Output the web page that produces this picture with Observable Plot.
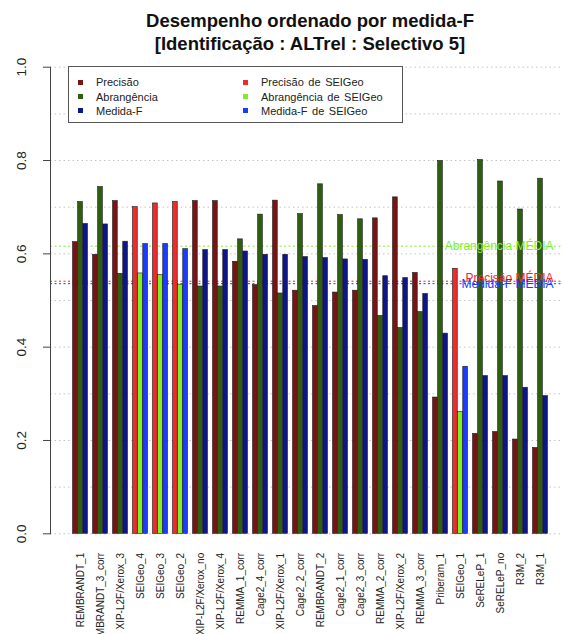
<!DOCTYPE html>
<html><head><meta charset="utf-8">
<script src="https://cdn.jsdelivr.net/npm/d3@7"></script>
<script src="https://cdn.jsdelivr.net/npm/@observablehq/plot@0.6"></script>
<style>
html,body{margin:0;padding:0;background:#fff;overflow:hidden;}
#wrap{position:relative;width:563px;height:634px;font-family:"Liberation Sans",Arial,Helvetica,sans-serif;}
#chart{position:absolute;left:0;top:0;}
#title{position:absolute;left:0;top:9px;width:563px;box-sizing:border-box;padding-left:57px;text-align:center;font-weight:bold;font-size:18.5px;line-height:23px;color:#111;z-index:2;}
#legend{position:absolute;left:68px;top:66px;width:335px;height:57px;box-sizing:border-box;border:1px solid #555;background:#fff;padding:8.4px 0 0 8.5px;display:grid;grid-template-columns:165px 165px;grid-auto-flow:column;grid-template-rows:repeat(3,14.2px);font-size:11px;color:#222;word-spacing:1.5px;z-index:2;}
.item{display:flex;align-items:center;line-height:14.2px;white-space:nowrap;}
.sw{width:5px;height:5px;margin-right:13.5px;flex:none;}
</style></head>
<body>
<div id="wrap">
  <div id="title">Desempenho ordenado por medida-F<br>[Identificação : ALTrel : Selectivo 5]</div>
  <div id="legend"></div>
  <div id="chart"></div>
</div>
<script>
// ---- data ----
const groups = ["REMBRANDT_1","REMBRANDT_3_corr","XIP-L2F/Xerox_3","SEIGeo_4","SEIGeo_3","SEIGeo_2",
  "XIP-L2F/Xerox_no","XIP-L2F/Xerox_4","REMMA_1_corr","Cage2_4_corr","XIP-L2F/Xerox_1","Cage2_2_corr",
  "REMBRANDT_2","Cage2_1_corr","Cage2_3_corr","REMMA_2_corr","XIP-L2F/Xerox_2","REMMA_3_corr",
  "Priberam_1","SEIGeo_1","SeRELeP_1","SeRELeP_no","R3M_2","R3M_1"];
const precisao = [0.625,0.598,0.713,0.700,0.708,0.711,0.713,0.713,0.583,0.533,0.714,0.521,
  0.488,0.517,0.521,0.676,0.721,0.559,0.292,0.568,0.214,0.218,0.202,0.184];
const abrangencia = [0.711,0.743,0.557,0.558,0.555,0.534,0.530,0.530,0.631,0.684,0.515,0.685,
  0.749,0.683,0.674,0.467,0.441,0.475,0.799,0.261,0.801,0.755,0.695,0.761];
const medidaF = [0.664,0.663,0.626,0.621,0.621,0.610,0.608,0.608,0.605,0.598,0.598,0.593,
  0.591,0.588,0.587,0.552,0.548,0.514,0.429,0.358,0.338,0.338,0.313,0.295];
const seriesKeys = ["P","A","F","SP","SA","SF"];
const seriesColors = ["#7a1414","#2e5e10","#0c1686","#ee2a2a","#7eee2a","#1a3cff"];
const legendLabels = ["Precisão","Abrangência","Medida-F","Precisão de SEIGeo","Abrangência de SEIGeo","Medida-F de SEIGeo"];
const meanLabels = ["Precisão MÉDIA","Abrangência MÉDIA","Medida-F MÉDIA"];
const yTicks = [0,0.2,0.4,0.6,0.8,1.0];
const gridTicks = [0,0.1,0.2,0.3,0.4,0.5,0.6,0.7,0.8,0.9,1.0];

// ---- build ----
const series = [precisao, abrangencia, medidaF];
const base = ["P","A","F"];
const rows = series.map((vals, j) => groups.map((g, i) => ({
  group: g, value: vals[i], key: (g.startsWith("SEIGeo") ? "S" : "") + base[j]
})));
const means = [
  {label: meanLabels[1], value: d3.mean(abrangencia), key: "SA", dy: 0},
  {label: meanLabels[0], value: d3.mean(precisao), key: "SP", dy: -3},
  {label: meanLabels[2], value: d3.mean(medidaF), key: "SF", dy: 0}
];

const xRange = [65.45, 555.55];
const step = (xRange[1] - xRange[0]) / groups.length;
const font = '"Liberation Sans", Arial, Helvetica, sans-serif';

const plot = Plot.plot({
  width: 563, height: 634,
  marginLeft: 50, marginRight: 0, marginTop: 66.7, marginBottom: 100.7,
  style: {fontFamily: font, background: "transparent", overflow: "visible"},
  x: {type: "band", domain: groups, range: xRange, padding: 0},
  y: {domain: [0, 1]},
  color: {domain: seriesKeys, range: seriesColors},
  marks: [
    Plot.gridY(gridTicks, {stroke: "#c4c4c4", strokeOpacity: 1, strokeDasharray: "1.5,3"}),
    Plot.ruleY(means, {y: "value", stroke: "key", strokeDasharray: "2,2.5", strokeWidth: 1}),
    ...rows.map((r, j) => Plot.barY(r, {
      x: "group", y: "value", fill: "key", stroke: "#1a1a1a", strokeWidth: 0.6,
      insetLeft: step * (0.125 + 0.25 * j), insetRight: step * (0.625 - 0.25 * j)
    })),
    ...means.map(m => Plot.text([m], {y: "value", text: "label", fill: "key", frameAnchor: "right",
      textAnchor: "end", dx: -10, dy: m.dy, fontSize: 12})),
    Plot.frame({anchor: "left", stroke: "#444"}),
    Plot.axisY(yTicks, {anchor: "left", tickSize: 7, tickPadding: 18, tickRotate: -90,
      tickFormat: d3.format(".1f"), fontSize: 13.5, stroke: "#444", fill: "#222", label: null}),
    Plot.axisX({anchor: "bottom", tickSize: 0, tickPadding: 19, tickRotate: -90, fontSize: 10,
      fill: "#222", label: null})
  ]
});
document.getElementById("chart").appendChild(plot);

// legend
const leg = document.getElementById("legend");
legendLabels.forEach((t, i) => {
  const it = document.createElement("div");
  it.className = "item";
  const sw = document.createElement("span");
  sw.className = "sw";
  sw.style.background = seriesColors[i];
  it.appendChild(sw);
  it.appendChild(document.createTextNode(t));
  leg.appendChild(it);
});
</script>
</body></html>
